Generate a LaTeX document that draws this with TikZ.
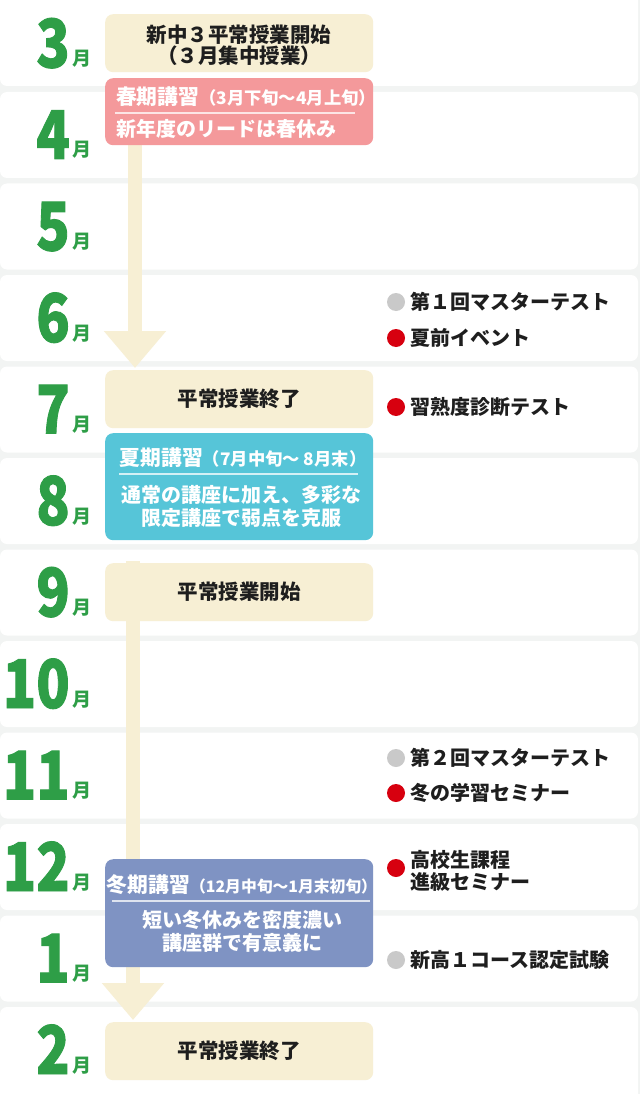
\documentclass[tikz,border=0pt]{standalone}
\usepackage{fontspec}
\setmainfont{Noto Sans CJK JP}
\newfontfamily\numfont{Noto Sans CJK JP}[FakeStretch=0.82,FakeBold=1.3]
\usetikzlibrary{arrows.meta,calc}
\definecolor{bggray}{HTML}{F2F4F3}
\definecolor{mgreen}{HTML}{2E9E47}
\definecolor{cream}{HTML}{F7EFD4}
\definecolor{pinkbox}{HTML}{F4999B}
\definecolor{cyanbox}{HTML}{56C5D8}
\definecolor{bluebox}{HTML}{7F93C3}
\definecolor{dotgray}{HTML}{C9C9C9}
\definecolor{dotred}{HTML}{D7000F}
\definecolor{ink}{HTML}{1E1E1E}
\pgfdeclarelayer{bg}
\pgfdeclarelayer{arrowlayer}
\pgfsetlayers{bg,arrowlayer,main}
\tikzset{
 rowbox/.style={fill=white, rounded corners=7pt},
 mnum/.style={inner sep=0pt, anchor=base east, text=mgreen, font=\numfont\fontsize{67}{67}\selectfont\bfseries},
 mtsu/.style={inner sep=0pt, anchor=base west, text=mgreen, font=\fontsize{19}{19}\selectfont\bfseries},
 card/.style={anchor=north west, inner sep=0pt, minimum width=268pt, rounded corners=8pt},
 cardtext/.style={inner sep=0pt, text=ink, font=\fontsize{20.5}{21}\selectfont\bfseries},
 wtext/.style={inner sep=0pt, text=white, font=\fontsize{20}{23}\selectfont\bfseries, align=center},
 ttext/.style={inner sep=0pt, text=white, font=\fontsize{20.8}{23}\selectfont\bfseries},
 evdot/.style={circle, inner sep=0pt, minimum size=18pt},
 evtext/.style={inner sep=0pt, anchor=west, text=ink, font=\fontsize{20}{22}\selectfont\bfseries, align=left},
 flow/.style={draw=cream, line width=14pt, -{Triangle[width=60pt,length=37pt]}},
 sepline/.style={draw=white, draw opacity=0.75, line width=1.3pt}
}
\newcommand{\paren}[1]{{\fontsize{17.3}{17}\selectfont #1}}
\newcommand{\parensm}[1]{{\fontsize{15.8}{16}\selectfont #1}}
\begin{document}
\begin{tikzpicture}[x=1pt,y=-1pt]
\useasboundingbox (0,0) rectangle (640,1094);
\begin{pgfonlayer}{bg}
\fill[bggray] (0,0) rectangle (640,1094);
\fill[rowbox] (0,-8) rectangle (638,86);
\foreach \i in {1,...,10} {
  \fill[rowbox] (0,{91.5*\i+0.5}) rectangle (638,{91.5*\i+86.5});
}
\fill[rowbox] (0,1007) rectangle (638,1102);
\end{pgfonlayer}

% month labels
\foreach \m [count=\i from 0] in {3,4,5,6,7,8,9,10,11,12,1,2} {
  \node[mnum] (m\i) at (70,{91.5*\i+0.5+67}) {\m};
  \node[mtsu] (t\i) at ($(m\i.base east)+(2,-2)$) {月};
}

% cards
\node[card, fill=cream, minimum height=58pt] (b1) at (105,14) {};
\node[cardtext] (b1a) at (239,35) {新中３平常授業開始};
\node[cardtext] (b1b) at (239,56) {（３月集中授業）};

\node[card, fill=pinkbox, minimum height=67pt] (b2) at (105,78) {};
\node[ttext] (b2a) at (246,97) {春期講習\paren{（3月下旬～4月上旬）}};
\draw[sepline] (115,113) -- (355,113);
\node[wtext, anchor=west] (b2b) at (116,129) {新年度のリードは春休み};

\node[card, fill=cream, minimum height=58pt] (b3) at (105,370) {};
\node[cardtext] (b3a) at (239,399) {平常授業終了};

\node[card, fill=cyanbox, minimum height=107pt] (b4) at (105,433) {};
\node[ttext] (b4a) at (243,458) {夏期講習\paren{（7月中旬～ 8月末）}};
\draw[sepline] (119,474) -- (358,474);
\node[wtext] (b4b) at (241,506.5) {通常の講座に加え、多彩な\\限定講座で弱点を克服};

\node[card, fill=cream, minimum height=58pt] (b5) at (105,563) {};
\node[cardtext] (b5a) at (239,592) {平常授業開始};

\node[card, fill=bluebox, minimum height=108pt] (b6) at (105,859) {};
\node[ttext] (b6a) at (242,885) {冬期講習\parensm{（12月中旬～1月末初旬）}};
\draw[sepline] (112,901) -- (370,901);
\node[wtext] (b6b) at (242,931.5) {短い冬休みを密度濃い\\講座群で有意義に};

\node[card, fill=cream, minimum height=58pt] (b7) at (105,1022) {};
\node[cardtext] (b7a) at (239,1051) {平常授業終了};

% flow arrows
\begin{pgfonlayer}{arrowlayer}
\draw[flow] ($(b2.south west)+(30,0)$) -- ($(b3.north west)+(30,-2)$);
\draw[flow] ($(b5.north west)+(28,-2)$) -- ($(b7.north west)+(28,-2)$);
\end{pgfonlayer}

% events
\node[evdot, fill=dotgray] (d1) at (396,302) {};
\node[evtext] (e1) at (410,302) {第１回マスターテスト};
\node[evdot, fill=dotred] (d2) at (396,338) {};
\node[evtext] (e2) at (410,338) {夏前イベント};
\node[evdot, fill=dotred] (d3) at (396,407) {};
\node[evtext] (e3) at (410,407) {習熟度診断テスト};
\node[evdot, fill=dotgray] (d4) at (396,758) {};
\node[evtext] (e4) at (410,758) {第２回マスターテスト};
\node[evdot, fill=dotred] (d5) at (396,793) {};
\node[evtext] (e5) at (410,793) {冬の学習セミナー};
\node[evdot, fill=dotred] (d6) at (396,868) {};
\node[evtext] (e6) at (410,871) {高校生課程\\進級セミナー};
\node[evdot, fill=dotgray] (d7) at (396,960) {};
\node[evtext] (e7) at (410,960) {新高１コース認定試験};
\end{tikzpicture}
\end{document}
